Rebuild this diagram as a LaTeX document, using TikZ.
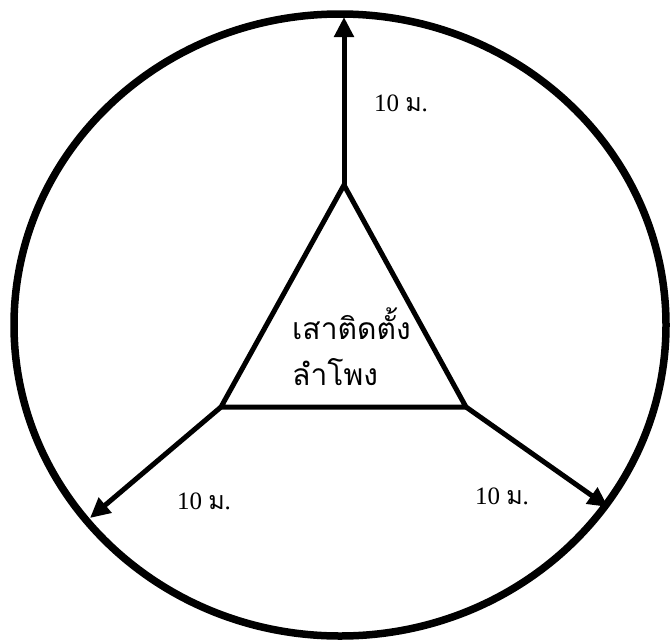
\documentclass[tikz,border=0pt]{standalone}
\usepackage{fontspec}
\setmainfont{Liberation Serif}
\newfontfamily\thaifont[Script=Thai]{Loma}
\usetikzlibrary{arrows.meta}
\tikzset{
  thick line/.style={line width=5pt, line join=miter},
  arrowline/.style={line width=5pt, -{Triangle[length=20pt,width=19pt]}},
  lbl/.style={inner sep=0pt, font=\fontsize{25}{28}\selectfont},
  thaitxt/.style={inner sep=0pt, align=left, font=\thaifont\fontsize{30}{50}\selectfont}
}
\begin{document}
\begin{tikzpicture}[x=1pt,y=-1pt]
\useasboundingbox (0,0) rectangle (671,640);
\draw[line width=7.5pt] (340,325) ellipse [x radius=326, y radius=311];
\coordinate (A) at (344,185);
\coordinate (B) at (221,407);
\coordinate (C) at (466,407);
\coordinate (TA) at (344,17);
\coordinate (TB) at (90,518);
\coordinate (TC) at (608,507);
\draw[thick line] (A) -- (B) -- (C) -- cycle;
\draw[arrowline] (A) -- (TA);
\draw[arrowline] (B) -- (TB);
\draw[arrowline] (C) -- (TC);
\node[lbl] (l1) at (401,103) {10 {\thaifont ม}.};
\node[lbl] (l2) at (204,501) {10 {\thaifont ม}.};
\node[lbl] (l3) at (502,496) {10 {\thaifont ม}.};
\node[thaitxt, anchor=west] (t1) at (292,324) {เสาติดตั้ง};
\node[thaitxt, anchor=west] (t2) at (292,372) {ลำโพง};
\end{tikzpicture}
\end{document}
